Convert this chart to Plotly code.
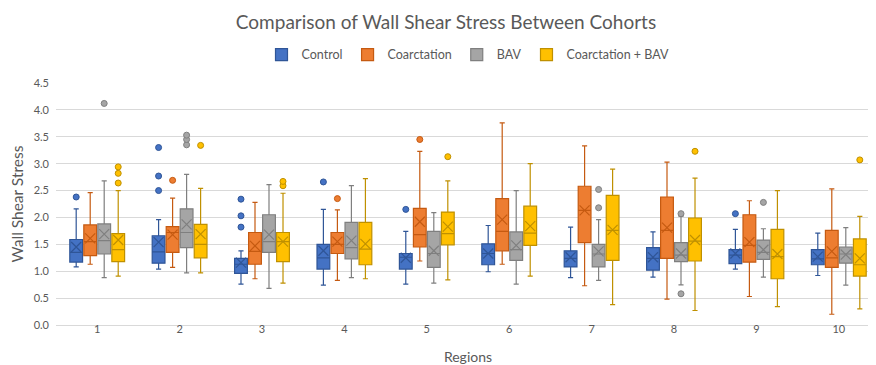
import plotly.graph_objects as go

regions = [1, 2, 3, 4, 5, 6, 7, 8, 9, 10]
series_names = ["Control", "Coarctation", "BAV", "Coarctation + BAV"]

control_q1 = [1.17, 1.15, 0.96, 1.04, 1.04, 1.12, 1.08, 1.02, 1.14, 1.12]
control_med = [1.35, 1.36, 1.13, 1.25, 1.26, 1.33, 1.24, 1.24, 1.30, 1.23]
control_q3 = [1.59, 1.66, 1.24, 1.50, 1.33, 1.51, 1.38, 1.44, 1.40, 1.40]
control_lo = [1.08, 1.04, 0.76, 0.74, 0.76, 0.99, 0.88, 0.89, 1.04, 0.92]
control_hi = [2.16, 1.96, 1.38, 2.15, 1.74, 1.85, 1.82, 1.73, 1.78, 1.71]
control_mean = [1.45, 1.54, 1.16, 1.38, 1.25, 1.33, 1.26, 1.26, 1.33, 1.27]
control_out = [[2.38], [2.50, 2.77, 3.30], [1.82, 2.03, 2.34], [2.66], [2.15], [], [], [], [2.07], []]

coarc_q1 = [1.29, 1.35, 1.13, 1.33, 1.45, 1.38, 1.53, 1.24, 1.17, 1.07]
coarc_med = [1.55, 1.72, 1.37, 1.50, 1.68, 1.74, 2.13, 1.76, 1.48, 1.25]
coarc_q3 = [1.86, 1.83, 1.72, 1.72, 2.17, 2.35, 2.58, 2.38, 2.05, 1.76]
coarc_lo = [1.13, 1.07, 0.86, 0.83, 1.19, 1.13, 0.73, 0.48, 0.53, 0.20]
coarc_hi = [2.46, 2.36, 2.28, 2.14, 3.23, 3.76, 3.33, 3.03, 2.31, 2.53]
coarc_mean = [1.61, 1.68, 1.47, 1.55, 1.92, 1.96, 2.13, 1.81, 1.54, 1.37]
coarc_out = [[], [2.69], [], [2.35], [3.45], [], [], [], [], []]

bav_q1 = [1.32, 1.44, 1.35, 1.23, 1.07, 1.20, 1.08, 1.18, 1.22, 1.15]
bav_med = [1.57, 1.72, 1.55, 1.44, 1.33, 1.40, 1.32, 1.30, 1.35, 1.32]
bav_q3 = [1.88, 2.16, 2.05, 1.91, 1.74, 1.73, 1.50, 1.53, 1.58, 1.45]
bav_lo = [0.88, 0.97, 0.68, 0.88, 0.78, 0.76, 0.83, 0.745, 0.89, 0.74]
bav_hi = [2.68, 2.80, 2.61, 2.59, 2.09, 2.50, 1.96, 2.02, 1.79, 1.81]
bav_mean = [1.69, 1.87, 1.68, 1.57, 1.38, 1.48, 1.37, 1.33, 1.40, 1.31]
bav_out = [[4.12], [3.35, 3.45, 3.53], [], [], [], [], [2.18, 2.52], [0.58, 2.07], [2.28], []]

both_q1 = [1.18, 1.25, 1.18, 1.12, 1.49, 1.48, 1.20, 1.19, 0.86, 0.91]
both_med = [1.40, 1.50, 1.55, 1.41, 1.70, 1.71, 1.76, 1.56, 1.27, 1.12]
both_q3 = [1.70, 1.87, 1.72, 1.91, 2.10, 2.21, 2.41, 1.99, 1.78, 1.60]
both_lo = [0.91, 0.97, 0.78, 0.86, 0.84, 0.91, 0.38, 0.27, 0.34, 0.30]
both_hi = [2.50, 2.54, 2.45, 2.72, 2.68, 3.00, 2.90, 2.73, 2.50, 2.02]
both_mean = [1.58, 1.69, 1.55, 1.51, 1.83, 1.84, 1.77, 1.58, 1.32, 1.24]
both_out = [[2.64, 2.82, 2.94], [3.34], [2.59, 2.67], [], [3.13], [], [], [3.23], [], [3.07]]

y_ticks = [0.0, 0.5, 1.0, 1.5, 2.0, 2.5, 3.0, 3.5, 4.0, 4.5]

fills = ["#4472C4", "#ED7D31", "#A5A5A5", "#FFC000"]
edges = ["#2F5597", "#C55A11", "#7F7F7F", "#BF9000"]

stats = [
    (control_q1, control_med, control_q3, control_lo, control_hi, control_mean, control_out),
    (coarc_q1, coarc_med, coarc_q3, coarc_lo, coarc_hi, coarc_mean, coarc_out),
    (bav_q1, bav_med, bav_q3, bav_lo, bav_hi, bav_mean, bav_out),
    (both_q1, both_med, both_q3, both_lo, both_hi, both_mean, both_out),
]

pitch = 0.17
bw = 0.155
font_family = "Lato, 'Open Sans', sans-serif"

fig = go.Figure()
for i, (name, (q1, med, q3, lo, hi, mean, out)) in enumerate(zip(series_names, stats)):
    xs = [r + (i - 1.5) * pitch for r in regions]
    fig.add_trace(go.Box(
        name=name, legendgroup=name,
        x=xs,
        q1=q1, median=med, q3=q3, lowerfence=lo, upperfence=hi,
        width=bw, whiskerwidth=0.4, boxpoints=False,
        fillcolor=fills[i],
        line=dict(color=edges[i], width=1.2),
        hoverinfo="skip",
    ))
    fig.add_trace(go.Scatter(
        x=xs, y=mean, mode="markers", showlegend=False, legendgroup=name,
        marker=dict(symbol="x-thin-open", size=10,
                    line=dict(color=edges[i], width=1.2), color=edges[i]),
        hoverinfo="skip",
    ))
    ox = [x for x, pts in zip(xs, out) for _ in pts]
    oy = [v for pts in out for v in pts]
    fig.add_trace(go.Scatter(
        x=ox, y=oy, mode="markers", showlegend=False, legendgroup=name,
        marker=dict(symbol="circle", size=6, color=fills[i],
                    line=dict(color=edges[i], width=1)),
        hoverinfo="skip",
    ))

fig.update_layout(
    width=876, height=365,
    margin=dict(l=48, r=4, t=75, b=48),
    paper_bgcolor="white", plot_bgcolor="white",
    boxmode="overlay",
    font=dict(family=font_family, color="#595959"),
    title=dict(text="Comparison of Wall Shear Stress Between Cohorts",
               x=0.5, xanchor="center", y=1 - 14 / 365, yanchor="middle",
               font=dict(size=19, color="#595959", family=font_family)),
    legend=dict(orientation="h", x=0.5, xanchor="center", y=1.116, yanchor="middle",
                font=dict(size=12.5, color="#595959"), itemwidth=30,
                tracegroupgap=0),
    xaxis=dict(range=[0.5, 10.5], tickmode="array", tickvals=regions,
               ticktext=[str(r) for r in regions], showgrid=False, zeroline=False,
               showline=True, linecolor="#D9D9D9", linewidth=1,
               ticks="", ticklabelstandoff=-6,
               tickfont=dict(size=11, color="#595959"),
               title=dict(text="Regions", font=dict(size=14, color="#595959"), standoff=17)),
    yaxis=dict(range=[0, 4.5], tickmode="array", tickvals=y_ticks,
               ticktext=[f"{v:.1f}" for v in y_ticks],
               showgrid=True, gridcolor="#D9D9D9", gridwidth=1, zeroline=False,
               showline=False, ticks="", ticklabelstandoff=6,
               tickfont=dict(size=11, color="#595959"),
               title=dict(text="Wall Shear Stress", font=dict(size=15.5, color="#595959"), standoff=6)),
)

fig.write_html("out.html")
